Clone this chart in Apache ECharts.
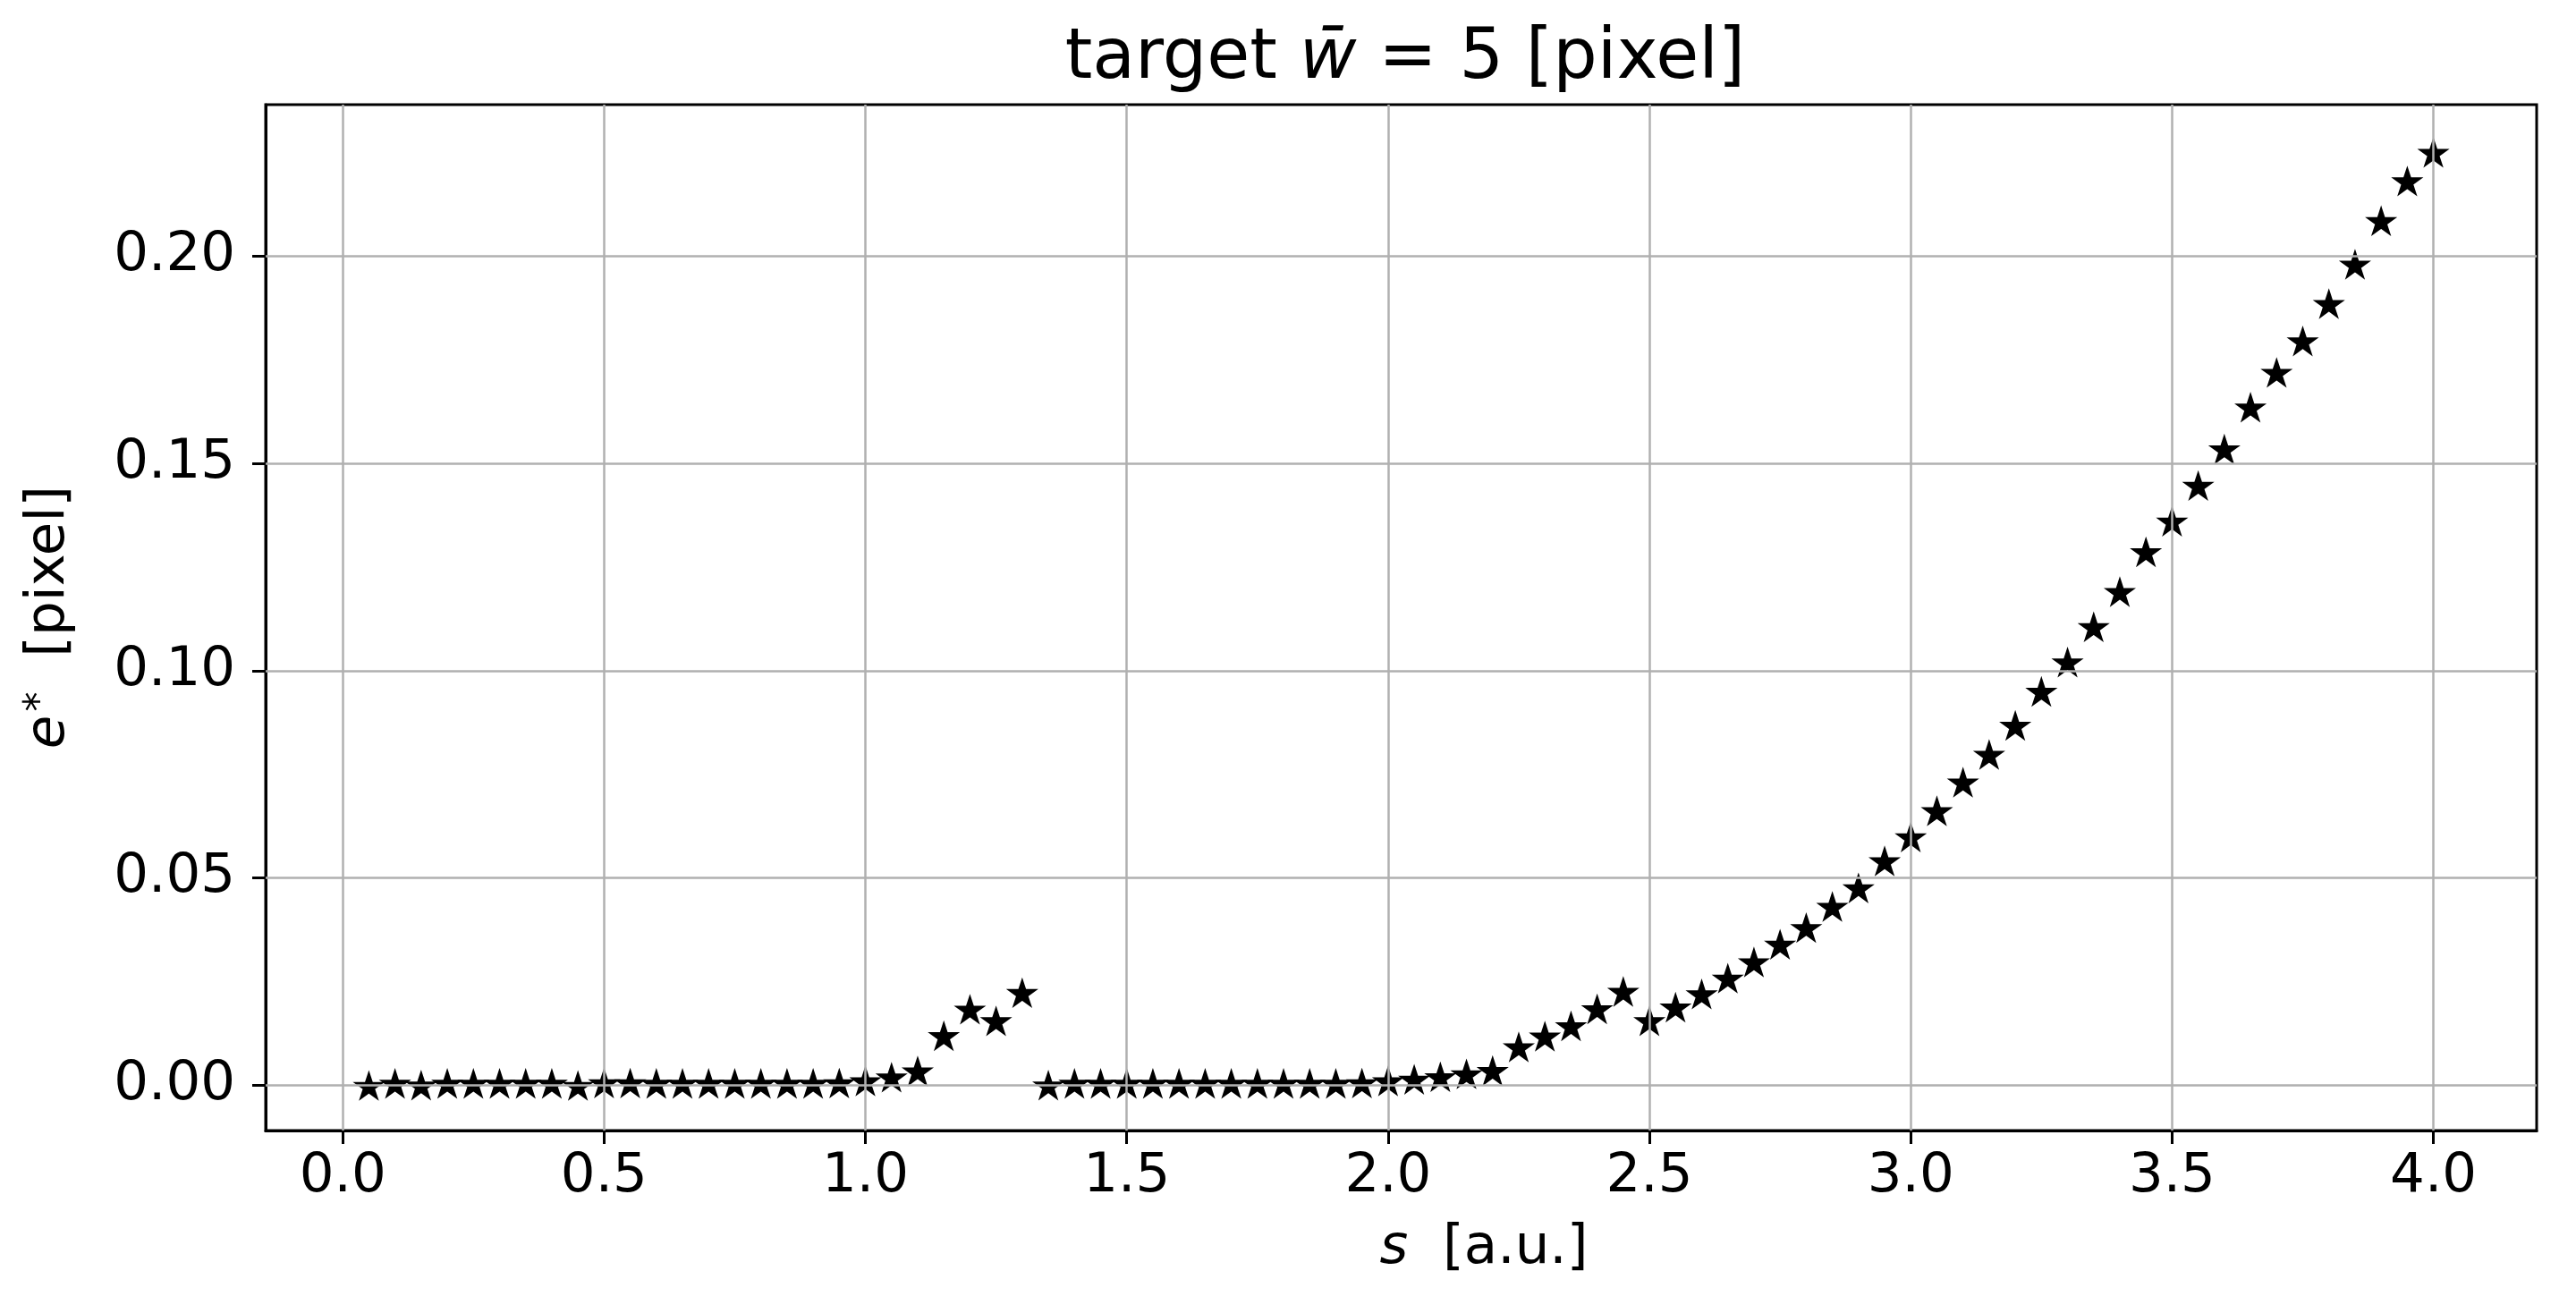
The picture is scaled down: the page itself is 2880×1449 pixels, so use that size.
<!DOCTYPE html>
<html><head><meta charset="utf-8">
<script src="https://cdn.jsdelivr.net/npm/echarts@6/dist/echarts.min.js"></script>
<style>html,body{margin:0;padding:0;background:#fff}#c{width:2880px;height:1449px}</style>
</head><body><div id="c"></div>
<script>
// ---- data ----
const sValues = [0.05,0.10,0.15,0.20,0.25,0.30,0.35,0.40,0.45,0.50,
                 0.55,0.60,0.65,0.70,0.75,0.80,0.85,0.90,0.95,1.00,
                 1.05,1.10,1.15,1.20,1.25,1.30,1.35,1.40,1.45,1.50,
                 1.55,1.60,1.65,1.70,1.75,1.80,1.85,1.90,1.95,2.00,
                 2.05,2.10,2.15,2.20,2.25,2.30,2.35,2.40,2.45,2.50,
                 2.55,2.60,2.65,2.70,2.75,2.80,2.85,2.90,2.95,3.00,
                 3.05,3.10,3.15,3.20,3.25,3.30,3.35,3.40,3.45,3.50,
                 3.55,3.60,3.65,3.70,3.75,3.80,3.85,3.90,3.95,4.00];
const eStarValues = [-0.0002,0.0003,-0.0001,0.0003,0.0003,0.0003,0.0003,0.0003,-0.0002,0.0004,
                     0.0004,0.0003,0.0003,0.0003,0.0003,0.0003,0.0003,0.0003,0.0004,0.0009,
                     0.0018,0.0033,0.0118,0.0182,0.0154,0.0222,-0.0001,0.0003,0.0003,0.0003,
                     0.0003,0.0003,0.0003,0.0003,0.0003,0.0003,0.0003,0.0003,0.0004,0.0009,
                     0.0013,0.0019,0.0026,0.0034,0.0091,0.0117,0.0142,0.0183,0.0225,0.0154,
                     0.0187,0.0219,0.0257,0.0296,0.0339,0.0379,0.0430,0.0475,0.0540,0.0598,
                     0.0661,0.0730,0.0797,0.0867,0.0949,0.1020,0.1105,0.1190,0.1286,0.1360,
                     0.1446,0.1534,0.1635,0.1719,0.1795,0.1885,0.1980,0.2085,0.2181,0.2250];
const xTicks = [0.0,0.5,1.0,1.5,2.0,2.5,3.0,3.5,4.0];
const yTicks = [0.00,0.05,0.10,0.15,0.20];

// ---- styling ----
const FONT = 'DejaVu Sans';
// five-pointed star outline (matplotlib "*" marker shape)
function starPath() {
  let d = '';
  for (let i = 0; i < 10; i++) {
    const r = (i % 2) ? 38.1966 : 100;
    const a = -Math.PI / 2 + i * Math.PI / 5;
    d += (i ? 'L' : 'M') + (r * Math.cos(a)).toFixed(3) + ' ' + (r * Math.sin(a)).toFixed(3);
  }
  return 'path://' + d + 'Z';
}

const chart = echarts.init(document.getElementById('c'), null, {renderer: 'canvas'});
const option = {
  animation: false,
  backgroundColor: '#fff',
  title: {
    left: 1566, top: 23, textAlign: 'center',
    text: '{a|target }{m|w\u0304}{a| = 5 [pixel]}',
    textStyle: {
      fontWeight: 'normal',
      rich: {
        a: {fontFamily: FONT, fontSize: 78, color: '#000', fontWeight: 'normal'},
        m: {fontFamily: FONT, fontSize: 78, color: '#000', fontStyle: 'italic', fontWeight: 'normal'}
      }
    }
  },
  graphic: [
    {
      type: 'text', x: 1659, y: 1396,
      style: {
        text: '{i|s}{a|  [a.u.]}', align: 'center', verticalAlign: 'middle',
        rich: {
          a: {fontFamily: FONT, fontSize: 61, fill: '#000'},
          i: {fontFamily: FONT, fontSize: 61, fill: '#000', fontStyle: 'italic'}
        }
      }
    },
    {
      type: 'text', x: 55, y: 690, rotation: Math.PI / 2,
      style: {
        text: '{i|e}{s|*}{a|  [pixel]}', align: 'center', verticalAlign: 'middle',
        rich: {
          a: {fontFamily: FONT, fontSize: 61, fill: '#000'},
          i: {fontFamily: FONT, fontSize: 61, fill: '#000', fontStyle: 'italic'},
          s: {fontFamily: FONT, fontSize: 44, fill: '#000', verticalAlign: 'top', padding: [0, 0, 0, 4]}
        }
      }
    }
  ],
  grid: {left: 297, right: 44, top: 117, bottom: 185, show: true,
         borderColor: '#000', borderWidth: 3, backgroundColor: '#fff'},
  xAxis: {
    type: 'value', min: -0.1475, max: 4.1975,
    axisLine: {show: true, onZero: false, lineStyle: {color: '#000', width: 3}},
    axisTick: {show: true, customValues: xTicks, length: 15, lineStyle: {color: '#000', width: 3}},
    axisLabel: {customValues: xTicks, formatter: v => v.toFixed(1), fontFamily: FONT,
                fontSize: 61, color: '#000', margin: 22},
    splitLine: {show: false}
  },
  yAxis: {
    type: 'value', min: -0.011, max: 0.2366,
    axisLine: {show: true, onZero: false, lineStyle: {color: '#000', width: 3}},
    axisTick: {show: true, customValues: yTicks, length: 15, lineStyle: {color: '#000', width: 3}},
    axisLabel: {customValues: yTicks, formatter: v => v.toFixed(2), fontFamily: FONT,
                fontSize: 61, color: '#000', margin: 34},
    splitLine: {show: false}
  },
  series: [
    {
      type: 'line', data: [], z: 1, silent: true,
      markLine: {
        silent: true, symbol: ['none', 'none'], animation: false,
        label: {show: false},
        lineStyle: {color: '#b0b0b0', width: 2.5, type: 'solid'},
        emphasis: {disabled: true},
        data: xTicks.map(v => ({xAxis: v})).concat(yTicks.map(v => ({yAxis: v})))
      }
    },
    {
      type: 'scatter', z: 3,
      data: sValues.map((x, i) => [x, eStarValues[i]]),
      symbol: starPath(), symbolSize: [30, 28.5],
      itemStyle: {color: '#000', borderColor: '#000', borderWidth: 2, opacity: 1}
    }
  ]
};
chart.setOption(option);
</script>
</body></html>
